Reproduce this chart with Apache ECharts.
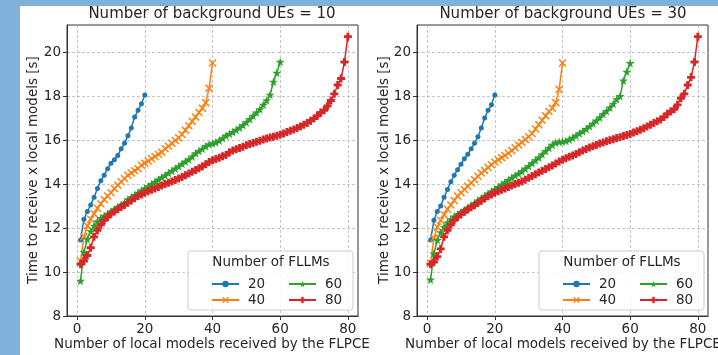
<!DOCTYPE html>
<html>
<head>
<meta charset="utf-8">
<script src="https://cdn.jsdelivr.net/npm/echarts@6/dist/echarts.min.js"></script>
<style>
  body { margin: 0; background: #7fb1da; }
  #panel { position: absolute; left: 20px; top: 6px; width: 698px; height: 349px; background: #fff; }
  #chart { position: absolute; left: 0; top: 0; width: 718px; height: 355px; }
</style>
</head>
<body>
<div id="panel"></div>
<div id="chart"></div>
<script>
// panel titles
const panelTitles = ['Number of background UEs = 10', 'Number of background UEs = 30'];
const seriesNames = ['20', '40', '60', '80'];
const xTicks = [0, 20, 40, 60, 80];
const yTicks = [8, 10, 12, 14, 16, 18, 20];

// background UEs = 10
const blue10 = [11.45,12.4,12.75,13.05,13.4,13.8,14.15,14.4,14.7,14.95,15.1,15.3,15.6,15.85,16.2,16.55,17.05,17.35,17.65,18.05];
const orange10 = [10.5,11.6,12.1,12.4,12.65,12.9,13.1,13.3,13.45,13.6,
  13.8,13.95,14.1,14.25,14.4,14.5,14.6,14.7,14.85,14.95,
  15.05,15.15,15.25,15.35,15.45,15.6,15.72,15.85,15.98,16.1,
  16.25,16.45,16.65,16.85,17.05,17.25,17.45,17.7,18.35,19.5];
const green10 = [9.6,10.9,11.5,11.85,12.1,12.3,12.45,12.55,12.65,12.75,
  12.85,12.95,13.05,13.15,13.3,13.4,13.5,13.6,13.7,13.8,
  13.9,14.0,14.1,14.2,14.3,14.4,14.5,14.6,14.7,14.8,
  14.92,15.02,15.12,15.25,15.4,15.5,15.6,15.72,15.8,15.85,
  15.9,15.98,16.08,16.2,16.28,16.36,16.46,16.56,16.68,16.8,
  16.95,17.1,17.25,17.4,17.6,17.8,18.05,18.65,19.05,19.55];
const red10 = [10.35,10.5,10.75,11.1,11.6,11.9,12.15,12.35,12.5,12.65,
  12.75,12.85,12.95,13.05,13.15,13.25,13.35,13.45,13.52,13.6,
  13.67,13.74,13.8,13.87,13.93,14.0,14.06,14.12,14.18,14.25,
  14.32,14.4,14.48,14.56,14.64,14.72,14.8,14.9,15.0,15.08,
  15.14,15.2,15.26,15.32,15.45,15.52,15.58,15.64,15.7,15.76,
  15.82,15.87,15.92,15.97,16.02,16.07,16.11,16.15,16.2,16.24,
  16.3,16.36,16.42,16.48,16.55,16.62,16.7,16.78,16.88,16.98,
  17.1,17.25,17.35,17.55,17.8,18.1,18.5,18.8,19.55,20.7];

// background UEs = 30
const blue30 = [11.45,12.35,12.75,13.0,13.4,13.75,14.1,14.4,14.65,14.9,15.15,15.35,15.6,15.85,16.15,16.55,17.0,17.35,17.6,18.05];
const orange30 = [10.4,11.55,12.05,12.35,12.6,12.85,13.05,13.25,13.45,13.6,
  13.75,13.9,14.05,14.2,14.35,14.5,14.62,14.75,14.88,15.0,
  15.1,15.2,15.3,15.4,15.52,15.65,15.78,15.9,16.02,16.15,
  16.3,16.5,16.7,16.9,17.1,17.3,17.45,17.7,18.3,19.5];
const green30 = [9.65,10.85,11.45,11.8,12.05,12.25,12.4,12.52,12.62,12.72,
  12.82,12.92,13.02,13.12,13.25,13.35,13.45,13.56,13.66,13.76,
  13.86,13.97,14.08,14.18,14.28,14.38,14.48,14.58,14.7,14.82,
  14.95,15.08,15.2,15.35,15.5,15.65,15.78,15.88,15.92,15.93,
  15.96,16.02,16.1,16.2,16.3,16.4,16.5,16.62,16.75,16.88,
  17.02,17.18,17.32,17.48,17.65,17.85,18.0,18.7,19.1,19.5];
const red30 = [10.35,10.45,10.7,11.05,11.6,11.9,12.15,12.35,12.5,12.63,
  12.74,12.84,12.94,13.04,13.14,13.24,13.34,13.44,13.52,13.6,
  13.67,13.74,13.8,13.87,13.93,14.0,14.06,14.12,14.2,14.28,
  14.36,14.44,14.52,14.6,14.68,14.76,14.84,14.93,15.02,15.1,
  15.17,15.24,15.3,15.36,15.45,15.52,15.59,15.66,15.72,15.78,
  15.84,15.89,15.94,15.99,16.04,16.09,16.13,16.18,16.23,16.28,
  16.34,16.4,16.47,16.54,16.62,16.7,16.78,16.85,16.93,17.05,
  17.2,17.3,17.4,17.6,17.9,18.1,18.5,18.85,19.55,20.7];

const colors = ['#1f77b4', '#ff7f0e', '#2ca02c', '#d62728'];
const symbols = [
  'circle',
  'path://M0,1.3 L1.3,0 L5,3.7 L8.7,0 L10,1.3 L6.3,5 L10,8.7 L8.7,10 L5,6.3 L1.3,10 L0,8.7 L3.7,5 Z',
  'path://M5,0 L6.2,3.6 L10,3.6 L6.9,5.9 L8.1,9.5 L5,7.3 L1.9,9.5 L3.1,5.9 L0,3.6 L3.8,3.6 Z',
  'path://M3.2,0 L6.8,0 L6.8,3.2 L10,3.2 L10,6.8 L6.8,6.8 L6.8,10 L3.2,10 L3.2,6.8 L0,6.8 L0,3.2 L3.2,3.2 Z'
];
const symbolSizes = [5, 8, 9, 8];

const grids = [
  { left: 67, top: 25, width: 291, height: 291 },
  { left: 417, top: 25, width: 291, height: 291 }
];
const panelData = [[blue10, orange10, green10, red10], [blue30, orange30, green30, red30]];

function pairs(arr) {
  return arr.map((v, i) => [i + 1, v]);
}

let series = [];
panelData.forEach((group, g) => {
  group.forEach((arr, k) => {
    series.push({
      name: seriesNames[k],
      type: 'line',
      xAxisIndex: g,
      yAxisIndex: g,
      data: pairs(arr),
      symbol: symbols[k],
      symbolSize: symbolSizes[k],
      showAllSymbol: true,
      lineStyle: { color: colors[k], width: 1.5 },
      itemStyle: { color: colors[k] },
      animation: false
    });
  });
});

const txt = '#262626';
function xAxis(g) {
  return {
    type: 'value', gridIndex: g, min: -3, max: 83, interval: 20,
    axisLine: { show: true, onZero: false, lineStyle: { color: '#333', width: 1 } },
    axisTick: { show: true, length: 4, customValues: xTicks, lineStyle: { color: '#333' } },
    axisLabel: { customValues: xTicks, color: txt, fontSize: 13.5, margin: 6, fontFamily: 'DejaVu Sans' },
    splitLine: { show: true, lineStyle: { color: '#b8b8b8', type: [3, 2], width: 0.8 } }
  };
}
function yAxis(g) {
  return {
    type: 'value', gridIndex: g, min: 8, max: 21.23, interval: 2,
    axisLine: { show: true, onZero: false, lineStyle: { color: '#333', width: 1 } },
    axisTick: { show: true, length: 4, customValues: yTicks, lineStyle: { color: '#333' } },
    axisLabel: { customValues: yTicks, color: txt, fontSize: 13.5, margin: 6, fontFamily: 'DejaVu Sans' },
    splitLine: { show: true, lineStyle: { color: '#b8b8b8', type: [3, 2], width: 0.8 } }
  };
}

function legendBox(g) {
  const x0 = g === 0 ? 188 : 539;
  return [
    { type: 'rect', z: 3, shape: { x: x0, y: 251, width: 165, height: 59, r: 3 },
      style: { fill: 'rgba(255,255,255,0.85)', stroke: '#cccccc', lineWidth: 1 } },
    { type: 'text', z: 5, x: x0 + 83, y: 262,
      style: { text: 'Number of FLLMs', fill: txt, font: '13.5px "DejaVu Sans"', align: 'center', verticalAlign: 'middle' } }
  ];
}
function legends(g) {
  const x0 = g === 0 ? 188 : 539;
  const common = {
    orient: 'vertical', top: 272, itemWidth: 27, itemHeight: 8, itemGap: 2,
    textStyle: { color: txt, fontSize: 13.5, fontFamily: 'DejaVu Sans', padding: [0, 0, 0, 4] }, z: 6
  };
  return [
    Object.assign({ left: x0 + 18, data: ['20', '40'] }, common),
    Object.assign({ left: x0 + 95, data: ['60', '80'] }, common)
  ];
}

const chart = echarts.init(document.getElementById('chart'));
chart.setOption({
  animation: false,
  textStyle: { fontFamily: 'DejaVu Sans' },
  grid: grids.map(r => Object.assign({ show: true, borderColor: '#333', borderWidth: 1, backgroundColor: 'transparent' }, r)),
  xAxis: [xAxis(0), xAxis(1)],
  yAxis: [yAxis(0), yAxis(1)],
  legend: legends(0).concat(legends(1)),
  graphic: [
    { type: 'text', x: 212, y: 14, style: { text: panelTitles[0], fill: txt, font: '15px "DejaVu Sans"', align: 'center', verticalAlign: 'middle' } },
    { type: 'text', x: 563, y: 14, style: { text: panelTitles[1], fill: txt, font: '15px "DejaVu Sans"', align: 'center', verticalAlign: 'middle' } },
    { type: 'text', x: 212, y: 344, style: { text: 'Number of local models received by the FLPCE', fill: txt, font: '13.5px "DejaVu Sans"', align: 'center', verticalAlign: 'middle' } },
    { type: 'text', x: 563, y: 344, style: { text: 'Number of local models received by the FLPCE', fill: txt, font: '13.5px "DejaVu Sans"', align: 'center', verticalAlign: 'middle' } },
    { type: 'text', x: 33, y: 170, rotation: Math.PI / 2, style: { text: 'Time to receive x local models [s]', fill: txt, font: '13.5px "DejaVu Sans"', align: 'center', verticalAlign: 'middle' } },
    { type: 'text', x: 384, y: 170, rotation: Math.PI / 2, style: { text: 'Time to receive x local models [s]', fill: txt, font: '13.5px "DejaVu Sans"', align: 'center', verticalAlign: 'middle' } }
  ].concat(legendBox(0), legendBox(1)),
  series: series
});
</script>
</body>
</html>
